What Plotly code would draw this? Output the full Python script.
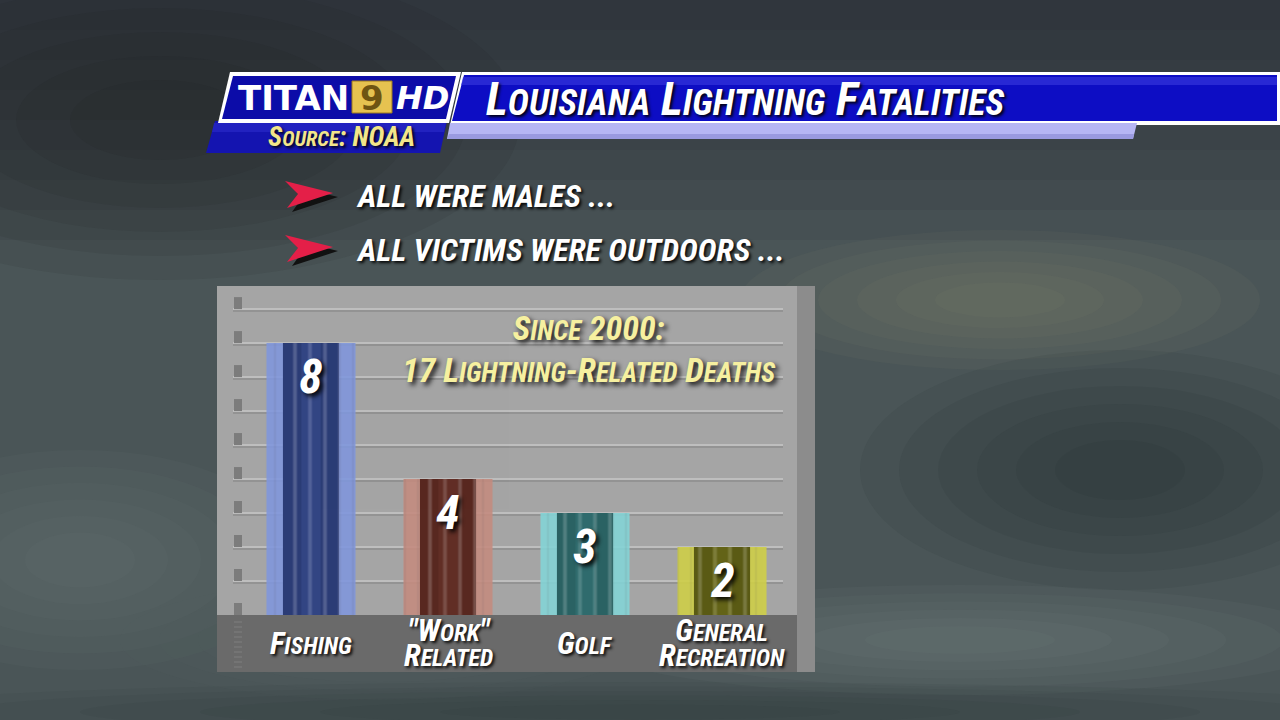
import itertools
import plotly.graph_objects as go

# data
categories = ["Fishing", "Work Related", "Golf", "General Recreation"]
deaths = [8, 4, 3, 2]
cat_lines = [["Fishing"], ['"Work"', "Related"], ["Golf"], ["General", "Recreation"]]
outer_colors = ["#8197dc", "#c48c80", "#84d4d6", "#cfcf48"]
inner_colors = ["#2b3c76", "#582820", "#2a6263", "#5a5a14"]
streak_colors = ["#5670c0", "#8a4c40", "#48949a", "#909028"]
grid_values = [1, 2, 3, 4, 5, 6, 7, 8, 9]
tick_values = [0, 1, 2, 3, 4, 5, 6, 7, 8, 9]
bullets = ["ALL WERE MALES ...", "ALL VICTIMS WERE OUTDOORS ..."]
title = "Louisiana Lightning Fatalities"
source = "Source: NOAA"
note_lines = ["Since 2000:", "17 Lightning-Related Deaths"]

W, H = 1280, 720
NARROW = "Liberation Sans Narrow, Roboto Condensed, DejaVu Sans Condensed, Liberation Sans, sans-serif"
SHADOW = "2px 2px 3px rgba(0,0,0,0.9)"


def px(x):
    return x / W


def py(y):
    return 1 - y / H


def poly(points):
    return "M " + " L ".join(f"{px(x):.5f},{py(y):.5f}" for x, y in points) + " Z"


def small_caps(s, big, small):
    # lowercase letters are drawn as smaller capitals
    out = []
    for low, grp in itertools.groupby(s, key=str.islower):
        chunk = "".join(grp)
        size = small if low else big
        out.append(f'<span style="font-size:{size}px">{chunk.upper()}</span>')
    return "".join(out)


fig = go.Figure()

# bars: light outer shell, dark softly streaked core
fig.add_trace(go.Bar(x=categories, y=deaths, width=0.65,
                     marker=dict(color=outer_colors, line_width=0,
                                 pattern=dict(shape="|", fgcolor="#ffffff", size=13, solidity=0.15, fgopacity=0.1)),
                     opacity=0.9, hoverinfo="skip"))
fig.add_trace(go.Bar(x=categories, y=deaths, width=0.41,
                     marker=dict(color=inner_colors, line_width=0,
                                 pattern=dict(shape="|", fgcolor=streak_colors, size=15, solidity=0.25,
                                              fgopacity=0.18)),
                     hoverinfo="skip"))
fig.add_trace(go.Bar(x=categories, y=deaths, width=0.14, marker=dict(color=streak_colors, line_width=0),
                     opacity=0.18, hoverinfo="skip"))

shapes = []
# stormy background: darker sky at the top, soft layered blotches
for i in range(8):
    shapes.append(dict(type="rect", xref="paper", yref="paper", x0=0, x1=1, y0=py(30 + 30 * i), y1=1,
                       fillcolor="#161c20", opacity=0.08, line_width=0, layer="below"))
clouds = [
    (160, 120, 360, 160, "#161c1f"),
    (1000, 300, 260, 70, "#8e9074"),
    (1120, 470, 260, 120, "#1c2427"),
    (80, 560, 220, 110, "#708282"),
    (960, 640, 380, 55, "#7e8e8e"),
    (640, 712, 800, 30, "#263032"),
    (380, 640, 260, 60, "#58686a"),
]
for cx, cy, rx, ry, col in clouds:
    for k in (1.0, 0.85, 0.7, 0.55, 0.4, 0.25):
        shapes.append(dict(type="circle", xref="paper", yref="paper", x0=px(cx - rx * k), x1=px(cx + rx * k),
                           y0=py(cy + ry * k), y1=py(cy - ry * k), fillcolor=col, opacity=0.08,
                           line_width=0, layer="below"))

# chart panel
shapes += [
    dict(type="rect", xref="paper", yref="paper", x0=px(217), x1=px(797), y0=py(617), y1=py(286),
         fillcolor="#a5a5a5", line_width=0, layer="below"),
    dict(type="rect", xref="paper", yref="paper", x0=px(797), x1=px(815), y0=py(672), y1=py(286),
         fillcolor="#8c8c8c", line_width=0, layer="below"),
    dict(type="rect", xref="paper", yref="paper", x0=px(217), x1=px(797), y0=py(672), y1=py(615),
         fillcolor="#6a6a6a", line_width=0, layer="below"),
]
for v in grid_values:
    shapes.append(dict(type="rect", xref="paper", yref="y", ysizemode="pixel", yanchor=v, y0=-1, y1=1,
                       x0=px(233), x1=px(783), fillcolor="#bebebe", line_width=0, layer="below"))
    shapes.append(dict(type="rect", xref="paper", yref="y", ysizemode="pixel", yanchor=v, y0=-3, y1=-1,
                       x0=px(233), x1=px(783), fillcolor="#939393", line_width=0, layer="below"))
for v in tick_values:
    shapes.append(dict(type="rect", xref="paper", yref="y", ysizemode="pixel", yanchor=v, y0=0, y1=12,
                       x0=px(234), x1=px(242), fillcolor="#7c7c7c", line_width=0, layer="below"))
for yy in range(622, 670, 5):
    shapes.append(dict(type="line", xref="paper", yref="paper", x0=px(234), x1=px(242), y0=py(yy), y1=py(yy),
                       line=dict(color="#7e7e7e", width=1), layer="below"))


def path_shape(points, color, opacity=1):
    return dict(type="path", xref="paper", yref="paper", path=poly(points), fillcolor=color,
                opacity=opacity, line_width=0, layer="below")


# header graphics
shapes += [
    path_shape([(462, 72), (1280, 72), (1280, 125), (450, 125)], "#ffffff"),
    path_shape([(464, 75), (1277, 75), (1277, 121), (452, 121)], "#0d0dc4"),
    path_shape([(463, 77), (1277, 77), (1277, 85), (461, 85)], "#3a3ae0", 0.6),
    path_shape([(450, 123), (1137, 123), (1133, 139), (447, 139)], "#b6b6f4"),
    path_shape([(449, 134), (1134, 134), (1133, 139), (447, 139)], "#9a9ae0"),
    path_shape([(215, 121), (447, 121), (440, 153), (206, 153)], "#1414b0"),
    path_shape([(214, 123), (446, 123), (444, 132), (212, 132)], "#2828c8", 0.7),
    path_shape([(230, 72), (461, 72), (449, 123), (218, 123)], "#ffffff"),
    path_shape([(233, 76), (456, 76), (446, 119), (222, 119)], "#0c0ca8"),
    dict(type="rect", xref="paper", yref="paper", x0=px(352), x1=px(392), y0=py(113), y1=py(81),
         fillcolor="#e6c250", line=dict(color="#9c7a1c", width=1), layer="below"),
]
# bullet arrows (shadow then red)
for yc in (195, 249):
    shapes.append(path_shape([(290, yc - 10), (338, yc + 2), (292, yc + 17), (302, yc + 3)], "#111111"))
    shapes.append(path_shape([(285, yc - 14), (333, yc - 2), (287, yc + 13), (298, yc - 1)], "#e41f48"))

ann = []
ann.append(dict(text=small_caps(title, 47, 36), x=px(484), y=py(99), xref="paper", yref="paper",
                xanchor="left", yanchor="middle", showarrow=False,
                font=dict(family=NARROW, size=47, color="white", style="italic", weight="bold", shadow=SHADOW)))
ann.append(dict(text=small_caps(source, 27, 21), x=px(341), y=py(137), xref="paper", yref="paper",
                xanchor="center", yanchor="middle", showarrow=False,
                font=dict(family=NARROW, size=27, color="#f2e68a", style="italic", weight="bold", shadow=SHADOW)))
ann.append(dict(text="TITAN", x=px(236), y=py(98), xref="paper", yref="paper", xanchor="left", yanchor="middle",
                showarrow=False, font=dict(family="DejaVu Sans", size=34, color="white", weight="bold")))
ann.append(dict(text="9", x=px(372), y=py(98), xref="paper", yref="paper", xanchor="center", yanchor="middle",
                showarrow=False, font=dict(family="DejaVu Sans", size=34, color="#6e5412", weight="bold")))
ann.append(dict(text="HD", x=px(394), y=py(98), xref="paper", yref="paper", xanchor="left", yanchor="middle",
                showarrow=False, font=dict(family="DejaVu Sans", size=32, color="white", weight="bold", style="italic")))

for i, b in enumerate(bullets):
    ann.append(dict(text=b, x=px(354), y=py(196 + 54 * i), xref="paper", yref="paper", xanchor="left",
                    yanchor="middle", showarrow=False,
                    font=dict(family=NARROW, size=32, color="white", style="italic", weight="bold", shadow=SHADOW)))

ann.append(dict(text="<br>".join(small_caps(l, 34, 27) for l in note_lines), x=px(589), y=py(349),
                xref="paper", yref="paper", xanchor="center", yanchor="middle", showarrow=False,
                font=dict(family=NARROW, size=32, color="#f6f0a0", style="italic", weight="bold",
                          shadow="3px 3px 5px rgba(0,0,0,0.9)")))

for cat, val in zip(categories, deaths):
    ann.append(dict(text=str(val), x=cat, y=val, xref="x", yref="y", yanchor="top", yshift=-3,
                    showarrow=False,
                    font=dict(family=NARROW, size=48, color="white", style="italic", weight="bold",
                              shadow="3px 3px 4px rgba(0,0,0,0.9)")))

for cat, lines in zip(categories, cat_lines):
    ann.append(dict(text="<br>".join(small_caps(l, 31, 24) for l in lines), x=cat, y=py(643),
                    xref="x", yref="paper", yanchor="middle", showarrow=False,
                    font=dict(family=NARROW, size=19, color="white", style="italic", weight="bold",
                              shadow=SHADOW)))

fig.update_layout(
    width=W, height=H, margin=dict(l=0, r=0, t=0, b=0),
    paper_bgcolor="#4a5557", plot_bgcolor="rgba(0,0,0,0)",
    barmode="overlay", showlegend=False,
    shapes=shapes, annotations=ann,
    xaxis=dict(domain=[px(242.5), px(790.5)], showticklabels=False, showgrid=False, zeroline=False,
               fixedrange=True),
    yaxis=dict(domain=[py(615), py(286)], range=[0, 9.68], showticklabels=False, showgrid=False,
               zeroline=False, fixedrange=True),
)

fig.write_html("out.html", config={"displayModeBar": False},
               post_script="document.body.style.margin='0';document.body.style.overflow='hidden';")
